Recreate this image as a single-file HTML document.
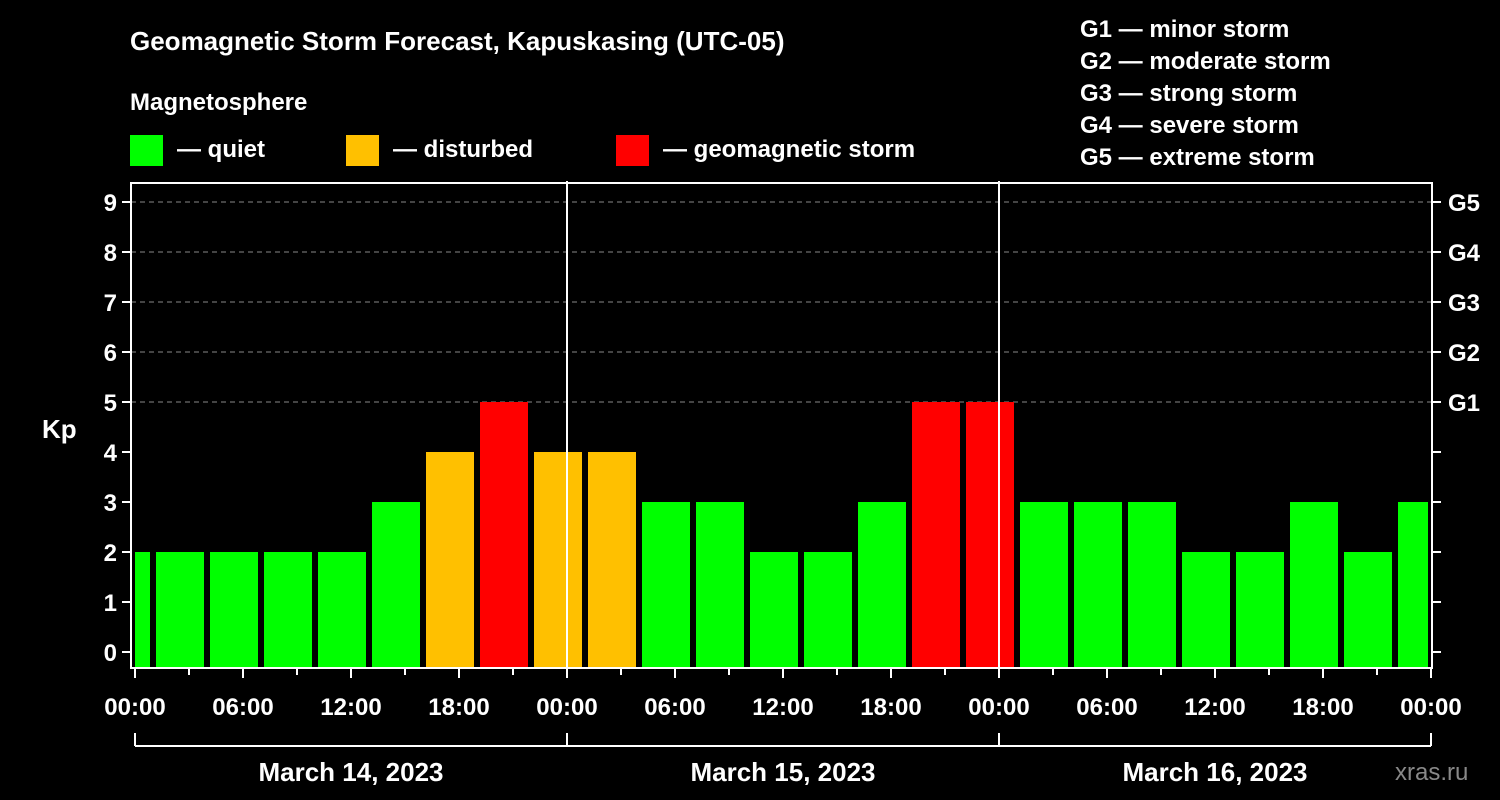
<!DOCTYPE html>
<html><head><meta charset="utf-8"><style>
body{margin:0;background:#000;}
svg{display:block;font-family:"Liberation Sans",Arial,sans-serif;font-weight:bold;}
</style></head><body>
<svg width="1500" height="800" viewBox="0 0 1500 800">
<rect width="1500" height="800" fill="#000"/>
<text x="130" y="50" fill="#fff" font-size="26">Geomagnetic Storm Forecast, Kapuskasing (UTC-05)</text>
<text x="130" y="110" fill="#fff" font-size="24">Magnetosphere</text>
<g><rect x="130" y="135" width="33" height="31" fill="#00ff00"/><text x="177" y="157" fill="#fff" font-size="24">— quiet</text></g>
<g><rect x="346" y="135" width="33" height="31" fill="#ffc000"/><text x="393" y="157" fill="#fff" font-size="24">— disturbed</text></g>
<g><rect x="616" y="135" width="33" height="31" fill="#ff0000"/><text x="663" y="157" fill="#fff" font-size="24">— geomagnetic storm</text></g>
<g fill="#fff" font-size="24">
<text x="1080" y="37">G1 — minor storm</text><text x="1080" y="69">G2 — moderate storm</text><text x="1080" y="101">G3 — strong storm</text><text x="1080" y="133">G4 — severe storm</text><text x="1080" y="165">G5 — extreme storm</text></g>
<text x="42" y="438" fill="#fff" font-size="26">Kp</text>
<text x="1395" y="780" fill="#888" font-size="24" font-weight="normal">xras.ru</text>
<g id="grid"></g><g id="bars"></g><g id="axes"></g>
</svg>
<script>
const kpValues=[2,2,2,2,2,3,4,5,4,4,3,3,2,2,3,5,5,3,3,3,2,2,3,2,3];
const yTicks=[0,1,2,3,4,5,6,7,8,9];
const gLabels=["G1","G2","G3","G4","G5"];
const gLevels=[5,6,7,8,9];
const xLabels=["00:00","06:00","12:00","18:00","00:00","06:00","12:00","18:00","00:00","06:00","12:00","18:00","00:00"];
const dayLabels=["March 14, 2023","March 15, 2023","March 16, 2023"];
const NS="http://www.w3.org/2000/svg";
const X0=135,PXH=18,Y0=652,PXU=50,L=131,R=1432,T=183,B=668;
const xs=h=>X0+h*PXH, ys=v=>Y0-v*PXU;
function mk(tag,attrs,parent,txt){const e=document.createElementNS(NS,tag);for(const k in attrs)e.setAttribute(k,attrs[k]);if(txt!==undefined)e.textContent=txt;document.getElementById(parent).appendChild(e);return e;}
gLevels.forEach(v=>{const e=mk('line',{x1:L,x2:R,y1:ys(v),y2:ys(v),stroke:'#888','stroke-dasharray':'5,4','stroke-width':1},'grid');

});
kpValues.forEach((v,i)=>{const c=-0.5+3*i;let x1=xs(c)-24,x2=xs(c)+24;x1=Math.max(x1,X0);x2=Math.min(x2,1428);
const col=v>=5?'#ff0000':(v>=4?'#ffc000':'#00ff00');
const e=mk('rect',{x:x1,y:ys(v),width:x2-x1,height:B-ys(v),fill:col},'bars');

});
[1,2].forEach(d=>{const e=mk('line',{x1:xs(24*d),x2:xs(24*d),y1:181,y2:B,stroke:'#fff','stroke-width':2},'axes');

});
const fr=mk('rect',{x:L,y:T,width:R-L,height:B-T,fill:'none',stroke:'#fff','stroke-width':2},'axes');


yTicks.forEach(v=>{mk('line',{x1:L-9,x2:L,y1:ys(v),y2:ys(v),stroke:'#fff','stroke-width':2},'axes');mk('line',{x1:R,x2:R+9,y1:ys(v),y2:ys(v),stroke:'#fff','stroke-width':2},'axes');
const t=mk('text',{x:L-14,y:ys(v)+9,fill:'#fff','font-size':24,'text-anchor':'end'},'axes',v);

});
gLevels.forEach((v,i)=>{const t=mk('text',{x:1448,y:ys(v)+9,fill:'#fff','font-size':24},'axes',gLabels[i]);

});
for(let h=0;h<=72;h+=3){mk('line',{x1:xs(h),x2:xs(h),y1:B,y2:B+(h%6==0?10:7),stroke:'#fff','stroke-width':2},'axes');}
xLabels.forEach((s,i)=>{const t=mk('text',{x:xs(6*i),y:715,fill:'#fff','font-size':24,'text-anchor':'middle'},'axes',s);

});
mk('line',{x1:xs(0),x2:xs(72),y1:746,y2:746,stroke:'#fff','stroke-width':2},'axes');
for(let d=0;d<=3;d++)mk('line',{x1:xs(24*d),x2:xs(24*d),y1:733,y2:746,stroke:'#fff','stroke-width':2},'axes');
dayLabels.forEach((s,i)=>{const t=mk('text',{x:xs(24*i+12),y:781,fill:'#fff','font-size':26,'text-anchor':'middle'},'axes',s);

});
</script>
</body></html>
